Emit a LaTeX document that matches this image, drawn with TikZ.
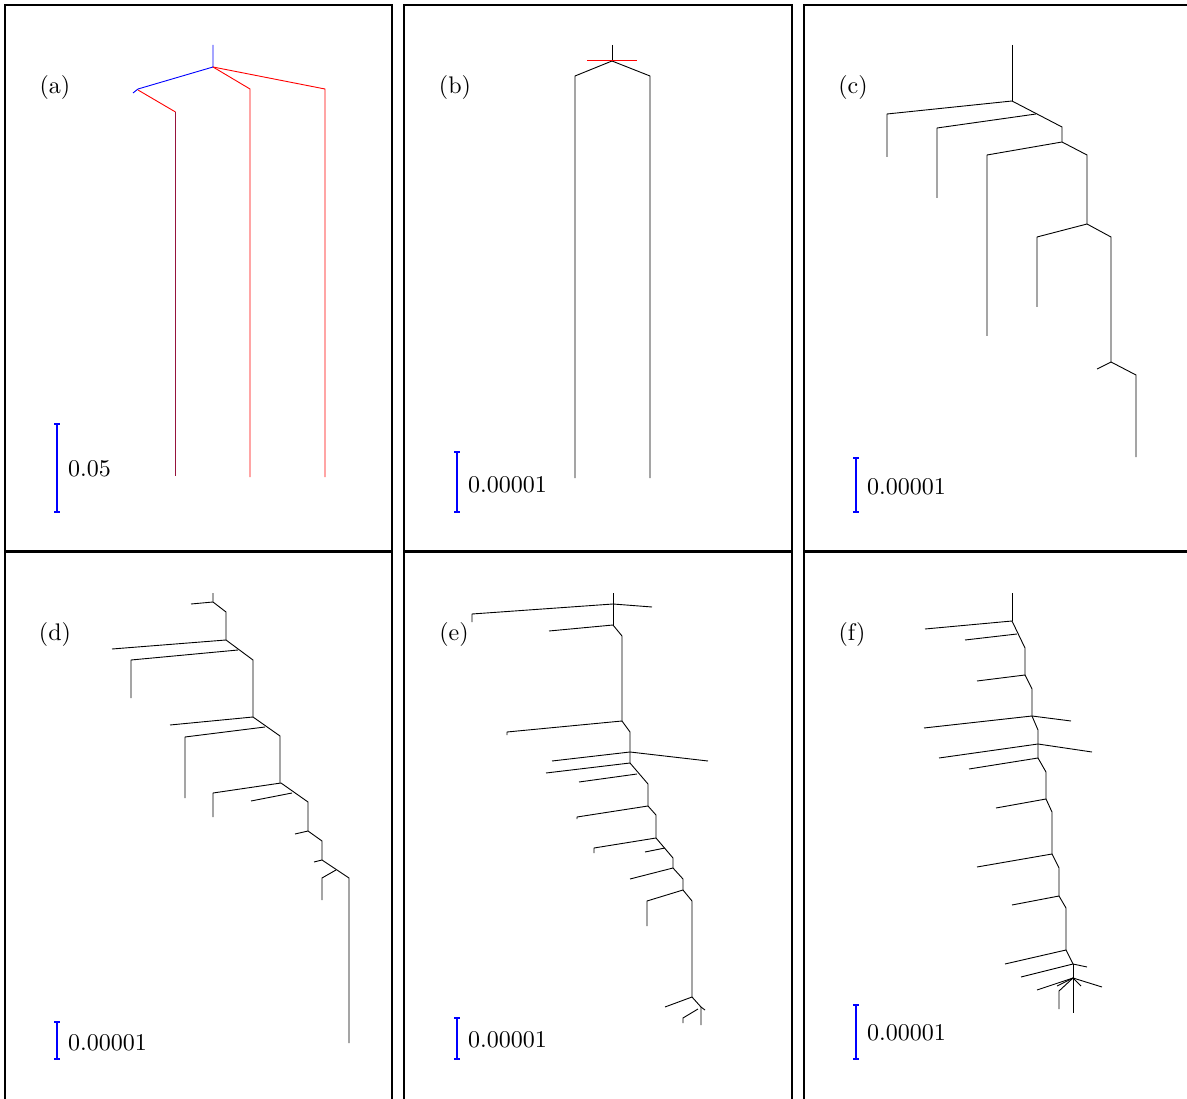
\documentclass[tikz,border=0pt]{standalone}
\usepackage{fontspec}
\setmainfont{lmroman10-regular.otf}
\definecolor{darkred}{RGB}{150,20,60}
\begin{document}
\begin{tikzpicture}[x=1pt,y=-1pt,
  tree/.style={line width=0.9pt,black,line join=round},
  redl/.style={line width=0.9pt,red},
  bluel/.style={line width=0.9pt,blue},
  frame/.style={line width=2pt,black},
  sbar/.style={line width=2pt,blue},
  lab/.style={font=\fontsize{24}{28}\selectfont,inner sep=0pt},
  slab/.style={font=\fontsize{24}{28}\selectfont,inner sep=0pt,anchor=west}]
\useasboundingbox (0,0) rectangle (1187,1099);
% frames
\draw[frame] (5,1110) -- (5,5) -- (392,5) -- (392,1110);
\draw[frame] (404,1110) -- (404,5) -- (792,5) -- (792,1110);
\draw[frame] (804,1110) -- (804,5) -- (1195,5);
\draw[line width=3pt] (5,551.5) -- (392,551.5);
\draw[line width=3pt] (404,551.5) -- (792,551.5);
\draw[line width=3pt] (804,551.5) -- (1195,551.5);
% labels
\node[lab] (la) at (55,88) {(a)};
\node[lab] (lb) at (455,88) {(b)};
\node[lab] (lc) at (853,88) {(c)};
\node[lab] (ld) at (55,634) {(d)};
\node[lab] (le) at (454,634) {(e)};
\node[lab] (lf) at (852,634) {(f)};
% scale bars
\newcommand{\sbarat}[3]{\draw[sbar] (#1-3,#2) -- (#1+3,#2) (#1,#2) -- (#1,#3) (#1-3,#3) -- (#1+3,#3);}
\sbarat{57}{424}{512}
\node[slab] (sa) at (68,469) {0.05};
\sbarat{457}{452}{512}
\node[slab] (sb) at (468,485) {0.00001};
\sbarat{856}{458}{512}
\node[slab] (sc) at (867,487) {0.00001};
\sbarat{57}{1022}{1059}
\node[slab] (sd) at (68,1043) {0.00001};
\sbarat{457}{1018}{1059}
\node[slab] (se) at (468,1040) {0.00001};
\sbarat{856}{1005}{1059}
\node[slab] (sf) at (867,1033) {0.00001};
% (a)
\draw[bluel] (213,45) -- (213,67) -- (138,89) -- (133,93);
\draw[redl] (138,90) -- (175.5,112);
\draw[line width=1pt,darkred] (175.5,112) -- (175.5,476);
\draw[redl] (213,67) -- (250,89) -- (250,477);
\draw[redl] (213,67) -- (325,89) -- (325,477);
% (b)
\draw[tree] (612,45) -- (612,61);
\draw[tree] (575,478) -- (575,76) -- (612,61) -- (650,76) -- (650,478);
\draw[line width=1pt,red] (587,60.5) -- (637,60.5);
% (c)
\draw[tree] (1012,45) -- (1012,101);
\draw[tree] (887,157) -- (887,114) -- (1012,101) -- (1062,127) -- (1062,142);
\draw[tree] (937,198) -- (937,128) -- (1036,114);
\draw[tree] (987,336) -- (987,155) -- (1062,142) -- (1087,155) -- (1087,224);
\draw[tree] (1037,307) -- (1037,237) -- (1087,224) -- (1111,237) -- (1111,362);
\draw[tree] (1097,369) -- (1111,362) -- (1136,375) -- (1136,457);
% (d)
\draw[tree] (213,593) -- (213,602) -- (226,612) -- (226,640);
\draw[tree] (191,604) -- (213,602);
\draw[tree] (112,649) -- (226,640) -- (253,660) -- (253,717);
\draw[tree] (131,698) -- (131,660) -- (238,650);
\draw[tree] (170,725) -- (253,717) -- (280,736) -- (280,783);
\draw[tree] (185,798) -- (185,737) -- (265,727);
\draw[tree] (213,817) -- (213,793) -- (281,783) -- (308,802) -- (308,831);
\draw[tree] (251,801) -- (292,793);
\draw[tree] (295,834) -- (308,831) -- (322,841) -- (322,860);
\draw[tree] (314,862) -- (322,860) -- (349,878) -- (349,1043);
\draw[tree] (322,900) -- (322,878) -- (336,870);
% (e)
\draw[tree] (613,593) -- (613,625);
\draw[tree] (472,622) -- (472,614) -- (613,604) -- (652,607);
\draw[tree] (549,631) -- (613,625) -- (622,636) -- (622,721);
\draw[tree] (507,735) -- (507,732) -- (622,721) -- (630,732) -- (630,763);
\draw[tree] (552,761) -- (630,752) -- (708,761);
\draw[tree] (546,773) -- (630,763) -- (648,784) -- (648,806);
\draw[tree] (579,782) -- (637,774);
\draw[tree] (577,819) -- (577,817) -- (648,806) -- (656,815) -- (656,838);
\draw[tree] (594,853) -- (594,848) -- (656,838) -- (673,858) -- (673,868);
\draw[tree] (645,852) -- (665,848);
\draw[tree] (630,879) -- (673,868) -- (683,879) -- (683,890);
\draw[tree] (647,926) -- (647,901) -- (683,890) -- (692,901) -- (692,997);
\draw[tree] (665,1007) -- (692,997) -- (701,1007) -- (701,1025);
\draw[tree] (683,1023) -- (683,1018) -- (698,1009);
\draw[tree] (701,1007) -- (705,1010);
% (f)
\draw[tree] (1012,593) -- (1012,621);
\draw[tree] (925,629) -- (1012,621) -- (1025,648) -- (1025,675);
\draw[tree] (965,640) -- (1017,634);
\draw[tree] (977,681) -- (1025,675) -- (1032,689) -- (1032,716);
\draw[tree] (924,728) -- (1032,716) -- (1071,721);
\draw[tree] (1032,716) -- (1038,730) -- (1038,758);
\draw[tree] (939,758) -- (1038,744) -- (1092,752);
\draw[tree] (969,769) -- (1038,758) -- (1046,772) -- (1046,799);
\draw[tree] (996,808) -- (1046,799) -- (1052,812) -- (1052,854);
\draw[tree] (977,867) -- (1052,854) -- (1059,868) -- (1059,896);
\draw[tree] (1012,905) -- (1059,896) -- (1066,908) -- (1066,950);
\draw[tree] (1005,964) -- (1066,950) -- (1073,964);
\draw[tree] (1021,977) -- (1073,964) -- (1087,967);
\draw[tree] (1073,964) -- (1073,1013);
\draw[tree] (1037,990) -- (1073,978) -- (1102,987);
\draw[tree] (1059,1009) -- (1059,991) -- (1073,978);
\draw[tree] (1057,986) -- (1073,978) -- (1081,986);
\end{tikzpicture}
\end{document}
